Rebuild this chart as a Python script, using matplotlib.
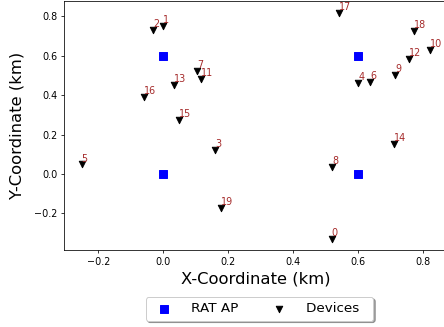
import matplotlib
matplotlib.use("Agg")
import matplotlib.pyplot as plt

ap_x = [0.0, 0.6, 0.0, 0.6]
ap_y = [0.6, 0.6, 0.0, 0.0]

dev_x = [0.519, -0.001, -0.031, 0.161, 0.601, -0.251, 0.637, 0.105, 0.520, 0.714,
         0.820, 0.116, 0.757, 0.034, 0.709, 0.049, -0.058, 0.542, 0.771, 0.178]
dev_y = [-0.330, 0.752, 0.732, 0.123, 0.461, 0.048, 0.466, 0.523, 0.035, 0.501,
         0.629, 0.481, 0.583, 0.450, 0.154, 0.272, 0.389, 0.818, 0.725, -0.174]
dev_labels = [str(i) for i in range(len(dev_x))]

DPI = 69.375
fig = plt.figure(figsize=(444 / DPI, 327 / DPI), dpi=DPI)
ax = fig.add_axes([64.2 / 444, (327 - 250.3) / 327, (447 - 64.2) / 444, (250.3 - 1.4) / 327])

ax.scatter(ap_x, ap_y, marker='s', s=72, c='blue', label='RAT AP')
ax.scatter(dev_x, dev_y, marker='v', s=45, c='black', label='Devices  ')
for x, y, t in zip(dev_x, dev_y, dev_labels):
    ax.text(x, y + 0.015, t, color='brown', fontsize=10, ha='left', va='baseline')

ax.set_xlabel('X-Coordinate (km)', fontsize=17, labelpad=5)
ax.set_ylabel('Y-Coordinate (km)', fontsize=17, labelpad=10)
ax.tick_params(labelsize=10)
ax.legend(loc='upper center', bbox_to_anchor=(0.51, -0.16), ncol=2, shadow=True,
          fontsize=14, handletextpad=1.0)

fig.savefig('out.png', dpi=DPI)
